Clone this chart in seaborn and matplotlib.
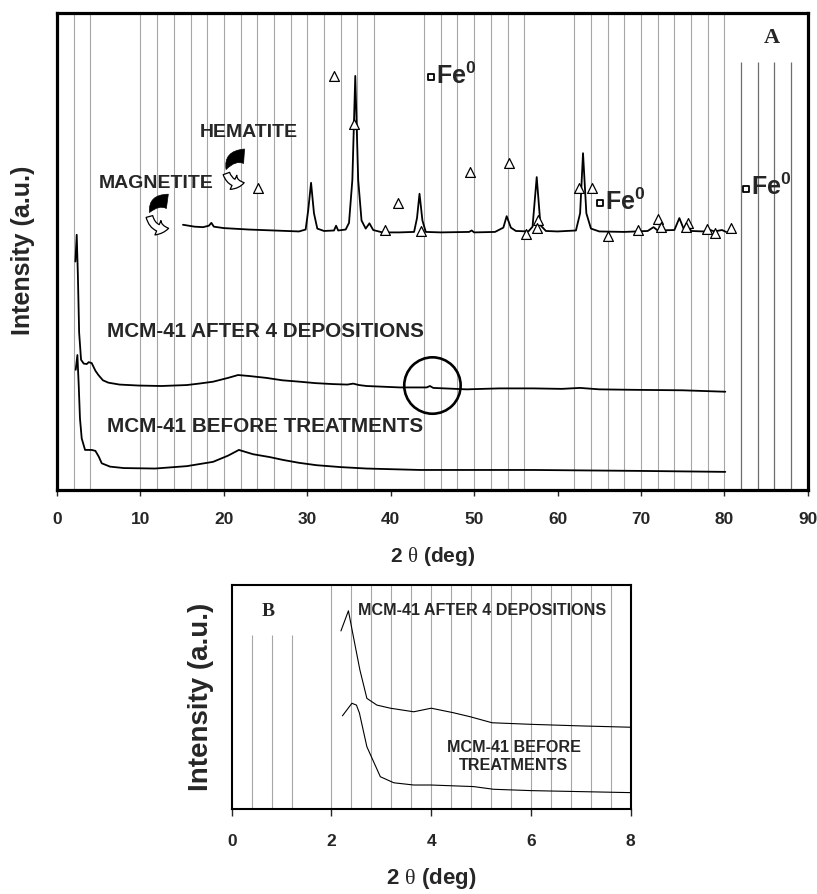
import matplotlib.pyplot as plt
import pandas as pd
import seaborn as sns
from matplotlib.patches import FancyArrowPatch

# ---- panel A : wide angle XRD (2theta in deg, intensity in a.u.) ----
treated_x = [15.1, 16.5, 17.5, 18.2, 18.5, 18.8, 20, 23, 26, 29, 29.8, 30.1, 30.45, 30.8, 31.2, 32,
             33.2, 33.45, 33.7, 34.6, 35.0, 35.4, 35.75, 36.1, 36.5, 37.0, 37.45, 37.9, 39, 41, 42.8,
             43.15, 43.45, 43.8, 44.2, 46, 49.4, 49.7, 50.0, 52.5, 53.5, 53.9, 54.4, 55.0, 56.5, 57.0,
             57.5, 57.95, 58.6, 60, 62.2, 62.7, 63.05, 63.45, 64.0, 65, 68, 70.8, 71.5, 72.0, 74.0,
             74.6, 75.1, 75.5, 76.0, 77.5, 78.3, 78.8, 79.7, 80.2]
treated_y = [55.6, 55.2, 55.1, 55.4, 56.0, 55.2, 54.9, 54.6, 54.4, 54.2, 54.6, 58.5, 64.4, 58.0, 54.8, 54.3,
             54.4, 55.4, 54.4, 54.6, 56.0, 65.0, 86.8, 65.0, 56.5, 54.8, 55.9, 54.5, 54.0, 54.0, 54.1,
             57.0, 62.1, 56.5, 54.1, 54.0, 54.1, 54.4, 54.0, 54.1, 55.0, 57.4, 55.0, 54.3, 54.2, 55.2,
             65.6, 55.5, 54.3, 54.2, 54.4, 58.0, 70.6, 58.0, 54.8, 54.2, 54.1, 54.3, 55.1, 54.4, 54.5,
             57.0, 54.8, 55.6, 54.3, 54.2, 54.5, 54.2, 54.5, 54.1]

after_x = [2.2, 2.36, 2.5, 2.65, 2.88, 3.2, 3.56, 3.8, 4.16, 4.6, 4.96, 5.5, 6.15, 7.5, 9.75, 12.5,
           15.55, 17, 18.7, 20.5, 21.7, 23.0, 25.1, 27, 29.1, 31, 33.1, 34.8, 35.5, 36.2, 37.1, 41.1,
           44.3, 44.7, 45.1, 49.1, 53, 57.1, 60.5, 62.7, 65, 69.1, 75, 80.1]
after_y = [47.9, 53.5, 45.0, 33.0, 27.3, 26.5, 26.4, 26.8, 26.6, 25.0, 24.1, 23.0, 22.5, 22.1, 21.9, 21.8,
           22.0, 22.3, 22.7, 23.5, 24.1, 23.9, 23.5, 23.0, 22.7, 22.4, 22.2, 22.1, 22.3, 22.0, 21.8, 21.5,
           21.5, 21.8, 21.4, 21.1, 21.3, 21.3, 21.2, 21.4, 21.1, 21.0, 20.9, 20.6]

before_x = [2.24, 2.44, 2.6, 2.75, 2.96, 3.36, 4.16, 4.6, 5.0, 5.36, 6.35, 8, 11.75, 15.55, 18.7, 20.5,
            21.8, 23.5, 25.5, 27.1, 29, 31.1, 34, 37.1, 43.5, 57.1, 70, 80.1]
before_y = [25.2, 28.3, 22.0, 15.0, 10.8, 8.4, 8.4, 8.2, 7.0, 5.6, 4.9, 4.6, 4.5, 5.0, 5.9, 7.2,
            8.4, 7.5, 6.9, 6.3, 5.7, 5.2, 4.8, 4.5, 4.2, 4.2, 4.0, 3.8]

# hematite / magnetite reflections (open triangles)
tri_x = [33.25, 35.65, 24.1, 40.9, 39.3, 49.5, 54.2, 43.6, 56.2, 57.6, 57.5, 62.6, 64.1, 66.1,
         69.7, 72.0, 72.4, 75.6, 75.4, 77.9, 78.9, 80.8]
tri_y = [86.8, 76.7, 63.3, 60.1, 54.5, 66.7, 68.5, 54.2, 53.6, 56.6, 55.0, 63.3, 63.3, 53.3,
         54.5, 56.8, 55.2, 56.0, 55.2, 54.7, 53.8, 54.9]

# Fe0 reflections (open squares + label)
fe_x = [44.84, 65.1, 82.6]
fe_y = [86.6, 60.1, 63.2]

circle_x = [45.0]
circle_y = [21.9]

grid_a_full = [2, 4, 10, 12, 14, 16, 18, 20, 22, 24, 26, 28, 30, 32, 34, 36, 38, 44, 46, 48, 50,
               52, 54, 56, 62, 64, 66, 68, 70, 72, 74, 76, 78, 80]
grid_a_short = [82, 84, 86, 88]

# ---- panel B : low angle XRD ----
b_after_x = [2.19, 2.34, 2.44, 2.57, 2.71, 2.91, 3.18, 3.65, 4.0, 4.44, 4.78, 5.22, 6.0, 6.99, 8.0]
b_after_y = [79.5, 88.5, 76.9, 62.1, 49.4, 46.4, 45.0, 43.4, 45.0, 43.0, 41.2, 38.5, 37.8, 37.1, 36.5]
b_before_x = [2.22, 2.41, 2.5, 2.56, 2.71, 2.98, 3.25, 3.65, 4.0, 4.85, 5.25, 6.0, 8.0]
b_before_y = [41.6, 47.2, 46.4, 42.9, 27.8, 14.4, 11.7, 10.7, 10.7, 10.0, 8.8, 8.2, 7.3]

grid_b_full = [2.0, 2.4, 2.8, 3.2, 3.6, 4.0, 4.4, 4.8, 5.2, 5.6, 6.0, 6.4, 6.8, 7.2, 7.6]
grid_b_short = [0.4, 0.8, 1.2]

sns.set_style("ticks")
plt.rcParams['font.family'] = ['Liberation Sans', 'DejaVu Sans']
plt.rcParams['mathtext.fontset'] = 'custom'
plt.rcParams['mathtext.rm'] = 'Liberation Serif'
plt.rcParams['mathtext.bf'] = 'Liberation Sans:bold'

fig = plt.figure(figsize=(8.17, 8.94), dpi=100)
axA = fig.add_axes([0.0698, 0.4519, 0.919, 0.5336])
axB = fig.add_axes([0.2836, 0.0951, 0.4884, 0.2505])

# ---------------- panel A ----------------
axA.vlines(grid_a_full, 0, 100, color='#a6a6a6', lw=0.8, zorder=0)
axA.vlines(grid_a_short, 0, 89.8, color='#6e6e6e', lw=0.9, zorder=0)

dfA = pd.concat([
    pd.DataFrame({'x': treated_x, 'y': treated_y, 's': 'treated'}),
    pd.DataFrame({'x': after_x, 'y': after_y, 's': 'after'}),
    pd.DataFrame({'x': before_x, 'y': before_y, 's': 'before'}),
])
sns.lineplot(data=dfA, x='x', y='y', units='s', estimator=None, sort=False,
             color='black', lw=1.3, ax=axA, legend=False)

sns.scatterplot(x=tri_x, y=tri_y, marker='^', s=50, facecolor='white', edgecolor='black',
                linewidth=0.9, ax=axA, zorder=5)
axA.scatter(fe_x, fe_y, marker='s', s=24, facecolor='white', edgecolor='black', linewidth=1.3, zorder=5)
for fx, fy in zip(fe_x, fe_y):
    axA.text(fx + 0.6, fy - 1.4, r'Fe$^{\mathbf{0}}$', fontsize=18, fontweight='bold', va='baseline')

axA.scatter(circle_x, circle_y, s=1650, facecolor='none', edgecolor='black', linewidth=1.9, zorder=6)

axA.text(6.0, 33.2, 'MCM-41 AFTER 4 DEPOSITIONS', fontsize=14.9, fontweight='bold', va='center')
axA.text(6.0, 13.3, 'MCM-41 BEFORE TREATMENTS', fontsize=14.9, fontweight='bold', va='center')
axA.text(17.15, 74.9, 'HEMATITE', fontsize=14, fontweight='bold', va='center')
axA.text(4.95, 64.2, 'MAGNETITE', fontsize=14, fontweight='bold', va='center')
axA.text(0.9517, 0.947, 'A', transform=axA.transAxes, fontsize=16, fontweight='bold',
         family='Liberation Serif', ha='center', va='center')

# curved arrows: black tapering tail + white head
for black_start, black_end, white_start, white_end in [
        ((22.75, 69.9), (20.2, 66.6), (20.2, 66.9), (22.75, 64.6)),
        ((13.55, 60.4), (11.0, 57.6), (11.0, 57.9), (13.7, 55.0))]:
    axA.add_patch(FancyArrowPatch(black_start, black_end, arrowstyle='wedge,tail_width=0.8,shrink_factor=0.7',
                                  mutation_scale=13, connectionstyle='arc3,rad=0.5',
                                  fc='black', ec='black', lw=0.5, zorder=6))
    axA.add_patch(FancyArrowPatch(white_start, white_end,
                                  arrowstyle='simple,head_length=0.55,head_width=0.8,tail_width=0.35',
                                  mutation_scale=14, connectionstyle='arc3,rad=0.55',
                                  fc='white', ec='black', lw=0.9, zorder=6))

axA.set_xlim(0, 90)
axA.set_ylim(0, 100)
axA.set_xticks(range(0, 91, 10))
axA.set_yticks([])
axA.tick_params(axis='x', direction='out', length=4, width=1, pad=12, labelsize=12.5, bottom=True)
for lbl in axA.get_xticklabels():
    lbl.set_fontweight('bold')
axA.set_xlabel(r'2 $\mathrm{\theta}$ (deg)', fontsize=15, fontweight='bold')
axA.xaxis.set_label_coords(0.5, -0.115)
axA.set_ylabel('Intensity (a.u.)', fontsize=18, fontweight='bold')
axA.yaxis.set_label_coords(-0.03, 0.503)
for sp in axA.spines.values():
    sp.set_visible(True)
    sp.set_color('black')
    sp.set_linewidth(2.3)

# ---------------- panel B ----------------
axB.vlines(grid_b_full, 0, 100, color='#a6a6a6', lw=0.8, zorder=0)
axB.vlines(grid_b_short, 0, 77.7, color='#a6a6a6', lw=0.8, zorder=0)

dfB = pd.concat([
    pd.DataFrame({'x': b_after_x, 'y': b_after_y, 's': 'after'}),
    pd.DataFrame({'x': b_before_x, 'y': b_before_y, 's': 'before'}),
])
sns.lineplot(data=dfB, x='x', y='y', units='s', estimator=None, sort=False,
             color='black', lw=0.8, ax=axB, legend=False)

axB.text(2.53, 88.8, 'MCM-41 AFTER 4 DEPOSITIONS', fontsize=11.6, fontweight='bold', va='center')
axB.text(5.65, 23.3, 'MCM-41 BEFORE\nTREATMENTS', fontsize=11.6, fontweight='bold',
         ha='center', va='center', multialignment='center', linespacing=1.25)
axB.text(0.091, 0.881, 'B', transform=axB.transAxes, fontsize=14, fontweight='bold',
         family='Liberation Serif', ha='center', va='center')

axB.set_xlim(0, 8)
axB.set_ylim(0, 100)
axB.set_xticks(range(0, 9, 2))
axB.set_yticks([])
axB.tick_params(axis='x', direction='out', length=5, width=1, pad=13, labelsize=12.5, bottom=True)
for lbl in axB.get_xticklabels():
    lbl.set_fontweight('bold')
axB.set_xlabel(r'2 $\mathrm{\theta}$ (deg)', fontsize=16, fontweight='bold')
axB.xaxis.set_label_coords(0.5, -0.255)
axB.set_ylabel('Intensity (a.u.)', fontsize=20, fontweight='bold')
axB.yaxis.set_label_coords(-0.045, 0.5)
for sp in axB.spines.values():
    sp.set_visible(True)
    sp.set_color('black')
    sp.set_linewidth(1.5)

fig.savefig('out.png', dpi=100)
